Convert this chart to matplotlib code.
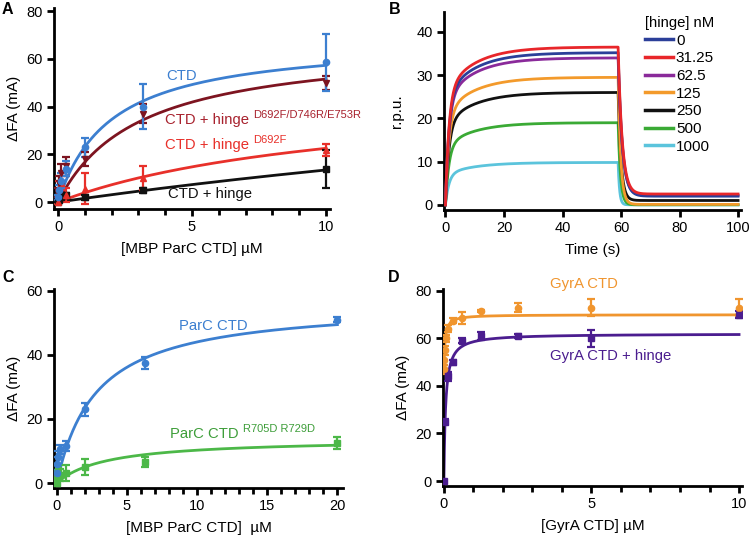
import numpy as np
import matplotlib
matplotlib.use("Agg")
import matplotlib.pyplot as plt

plt.rcParams['font.family'] = ['Liberation Sans', 'DejaVu Sans']
plt.rcParams['font.size'] = 10.5

# ---------------- Panel A data ----------------
conc_A = [0, 0.0316, 0.1, 0.316, 1, 3.16, 10]
ctd_A = [2, 5, 9, 14, 23, 40, 58.5]
ctd_A_err = [1, 2, 3, 3, 4, 9.5, 12]
triple_A = [4, 8, 12, 15, 18, 37, 50]
triple_A_err = [2, 3, 4, 4, 3, 4, 3]
d692f_A = [0, 6, 8, 3, 5.5, 10, 22]
d692f_A_err = [1, 3, 3, 3, 6.5, 5, 2.5]
hinge_A = [0, 1, 2, 3, 2, 5, 14]
hinge_A_err = [1, 1, 1, 1, 1, 1, 8]
# hyperbolic fit parameters (Bmax, Kd)
bmax_A = [68.5, 67, 47.5, 82]
kd_A = [1.96, 3.0, 11.1, 51]

# ---------------- Panel B data ----------------
hinge_nM = ['0', '31.25', '62.5', '125', '250', '500', '1000']
trace_colors = ['#2b3f99', '#e8262a', '#8a2a9a', '#f39a2b', '#111111', '#3aaa35', '#5bc4dc']
plateau_B = [35.2, 36.5, 34.0, 29.5, 26.0, 19.0, 9.8]
residual_B = [2.0, 2.5, 2.2, 0.1, 1.0, 0.0, 0.0]
tau_off_B = [1.4, 1.4, 1.4, 0.9, 1.0, 0.8, 0.5]
t_off = 59.0

# ---------------- Panel C data ----------------
conc_C = [0, 0.02, 0.063, 0.2, 0.63, 2, 6.32, 20]
parc_C = [3, 6, 8, 10.5, 11.5, 23, 37.5, 51]
parc_C_err = [1, 2, 2, 1.5, 1.5, 2, 2, 0.8]
mut_C = [0, 2, 4, 2.5, 3, 5, 6.5, 12.5]
mut_C_err = [1, 1.5, 1.5, 2, 2.5, 2.5, 1.5, 2]
bmax_C = [56.4, 13.9]
kd_C = [2.8, 3.56]

# ---------------- Panel D data ----------------
conc_D = [0, 0.0195, 0.039, 0.078, 0.156, 0.3125, 0.625, 1.25, 2.5, 5, 10]
gyra_D = [47, 51, 55, 60, 64, 67.5, 68.5, 71.5, 73, 73, 73]
gyra_D_err = [2, 2, 2, 1.5, 1.5, 1, 2.5, 0.5, 2, 3.5, 3.5]
conc_D2 = [0, 0.039, 0.156, 0.3125, 0.625, 1.25, 2.5, 5, 10]
hinge_D = [0, 25, 44, 50, 59, 61, 61, 60, 70]
hinge_D_err = [0.5, 1, 2, 1, 1, 1.5, 1, 3.5, 1.5]
# fits: offset + Bmax*x/(Kd+x)
offset_D = [45, 0]
bmax_D = [25, 62]
kd_D = [0.035, 0.058]

W, H = 752, 536
fig = plt.figure(figsize=(W / 100, H / 100), dpi=100)

TICK_FS = 10.5
LAB_FS = 11
TXT_FS = 10.75
SUP_FS = 8


def add_ax(left, right, top, bottom):
    # pixel box -> figure fraction
    return fig.add_axes([left / W, 1 - bottom / H, (right - left) / W, (bottom - top) / H])


def style(ax):
    for s in ['top', 'right']:
        ax.spines[s].set_visible(False)
    for s in ['left', 'bottom']:
        ax.spines[s].set_linewidth(2.0)
    ax.tick_params(which='major', direction='out', length=5, width=2.0, pad=3, labelsize=TICK_FS)
    ax.tick_params(which='minor', direction='out', length=4, width=2.0)


def hyper(x, b, k, y0=0):
    return y0 + b * x / (k + x)


def errs(ax, x, y, e, color, marker):
    ax.errorbar(x, y, yerr=e, fmt=marker, color=color, ms=4.5, elinewidth=1.6,
                capsize=3, capthick=1.6, zorder=3)


def label_sup(ax, x, y, text, sup, color):
    t = ax.text(x, y, text, color=color, fontsize=TXT_FS, va='center', ha='left')
    ax.annotate(sup, xy=(1, 0.5), xycoords=t, xytext=(3, 0), textcoords='offset points',
                color=color, fontsize=SUP_FS, va='bottom', ha='left')


# ---------------- A ----------------
axA = add_ax(54, 330, 8, 209)
style(axA)
xs = np.linspace(0, 10, 300)
colA = ['#3c7fd0', '#7d1420', '#e8302a', '#111111']
for b, k, c in zip(bmax_A, kd_A, colA):
    axA.plot(xs, hyper(xs, b, k), color=c, lw=2.0, zorder=2)
errs(axA, conc_A, hinge_A, hinge_A_err, colA[3], 's')
errs(axA, conc_A, d692f_A, d692f_A_err, colA[2], '^')
errs(axA, conc_A, triple_A, triple_A_err, colA[1], 'v')
errs(axA, conc_A, ctd_A, ctd_A_err, colA[0], 'o')
axA.set_xlim(-0.15, 10.15)
axA.set_ylim(-2.9, 81.3)
axA.set_xticks([0, 5, 10])
axA.set_xticks(range(0, 11), minor=True)
axA.set_yticks([0, 20, 40, 60, 80])
axA.set_xlabel('[MBP ParC CTD] µM', fontsize=LAB_FS, labelpad=6)
axA.set_ylabel('ΔFA (mA)', fontsize=LAB_FS, labelpad=4)
axA.text(4.05, 52.8, 'CTD', color=colA[0], fontsize=TXT_FS, va='center')
label_sup(axA, 4.0, 34.3, 'CTD + hinge', 'D692F/D746R/E753R', '#a8222e')
label_sup(axA, 4.0, 23.9, 'CTD + hinge', 'D692F', colA[2])
axA.text(4.1, 3.4, 'CTD + hinge', color=colA[3], fontsize=TXT_FS, va='center')

# ---------------- B ----------------
axB = add_ax(444, 741, 12, 210)
style(axB)
t = np.linspace(0, 100, 2001)
draw_order = [6, 5, 4, 3, 2, 0, 1]
for i in draw_order:
    p = plateau_B[i]
    rise = p * (1 - 0.72 * np.exp(-t / 1.2) - 0.28 * np.exp(-t / 10))
    p_end = p * (1 - 0.72 * np.exp(-t_off / 1.2) - 0.28 * np.exp(-t_off / 10))
    decay = residual_B[i] + (p_end - residual_B[i]) * np.exp(-(t - t_off) / tau_off_B[i])
    y = np.where(t < t_off, rise, decay)
    axB.plot(t, y, color=trace_colors[i], lw=2.0, zorder=2 + draw_order.index(i))
handles = [plt.Line2D([], [], color=c, lw=2.5) for c in trace_colors]
axB.legend(handles, hinge_nM, title='[hinge] nM', frameon=False, fontsize=11,
           title_fontsize=10.75, handlelength=1.8, handletextpad=0.2, labelspacing=0.24,
           loc='upper left', bbox_to_anchor=(639 / W, 1 - 10 / H),
           bbox_transform=fig.transFigure, borderaxespad=0)
axB.set_xlim(-0.5, 101)
axB.set_ylim(-1.2, 44.6)
axB.set_xticks(range(0, 101, 20))
axB.set_yticks(range(0, 41, 10))
axB.set_xlabel('Time (s)', fontsize=LAB_FS, labelpad=6)
axB.set_ylabel('r.p.u.', fontsize=LAB_FS, labelpad=9)

# ---------------- C ----------------
axC = add_ax(54, 343, 289, 488)
style(axC)
xs = np.linspace(0, 20, 400)
colC = ['#3c7fd0', '#4cb848']
for b, k, c in zip(bmax_C, kd_C, colC):
    axC.plot(xs, hyper(xs, b, k), color=c, lw=2.0, zorder=2)
errs(axC, conc_C, mut_C, mut_C_err, colC[1], 's')
errs(axC, conc_C, parc_C, parc_C_err, colC[0], 'o')
axC.set_xlim(-0.2, 20.4)
axC.set_ylim(-1.56, 60.6)
axC.set_xticks([0, 5, 10, 15, 20])
axC.set_xticks(range(0, 21), minor=True)
axC.set_yticks([0, 20, 40, 60])
axC.set_xlabel('[MBP ParC CTD]  µM', fontsize=LAB_FS, labelpad=6)
axC.set_ylabel('ΔFA (mA)', fontsize=LAB_FS, labelpad=4)
axC.text(8.7, 49, 'ParC CTD', color=colC[0], fontsize=TXT_FS, va='center')
label_sup(axC, 8.1, 15.3, 'ParC CTD', 'R705D R729D', '#3e9e3a')

# ---------------- D ----------------
axD = add_ax(443, 742, 289, 486)
style(axD)
xs = np.concatenate([np.linspace(0, 0.5, 400), np.linspace(0.5, 10, 200)])
colD = ['#f0952e', '#4b1d8f']
for y0, b, k, c in zip(offset_D, bmax_D, kd_D, colD):
    axD.plot(xs, hyper(xs, b, k, y0), color=c, lw=2.0, zorder=2)
errs(axD, conc_D, gyra_D, gyra_D_err, colD[0], 'o')
errs(axD, conc_D2, hinge_D, hinge_D_err, colD[1], 's')
axD.set_xlim(-0.03, 10.1)
axD.set_ylim(-2.1, 80.8)
axD.set_xticks([0, 5, 10])
axD.set_xticks(range(0, 11), minor=True)
axD.set_yticks([0, 20, 40, 60, 80])
axD.set_xlabel('[GyrA CTD] µM', fontsize=LAB_FS, labelpad=6)
axD.set_ylabel('ΔFA (mA)', fontsize=LAB_FS, labelpad=4)
axD.text(3.6, 83, 'GyrA CTD', color=colD[0], fontsize=TXT_FS, va='center', clip_on=False)
axD.text(3.6, 52.5, 'GyrA CTD + hinge', color=colD[1], fontsize=TXT_FS, va='center')

# panel letters
for lab, px, py in [('A', 2, 10), ('B', 389, 10), ('C', 2, 278), ('D', 388, 278)]:
    fig.text(px / W, 1 - py / H, lab, fontsize=11.5, fontweight='bold', va='center', ha='left')

fig.savefig('out.png', dpi=100)
